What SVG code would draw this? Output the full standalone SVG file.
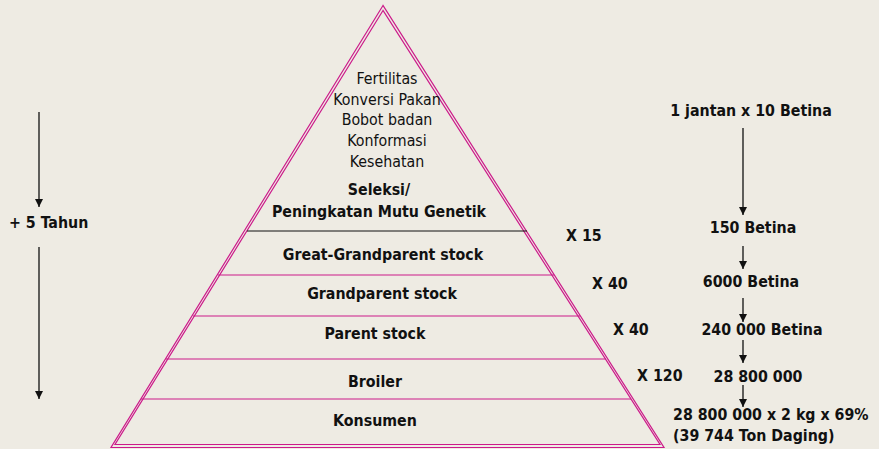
<svg xmlns="http://www.w3.org/2000/svg" width="879" height="449" viewBox="0 0 879 449">
  <defs>
    <marker id="ah" viewBox="0 0 10 10" refX="10" refY="5" markerWidth="8" markerHeight="8" markerUnits="userSpaceOnUse" orient="auto">
      <path d="M0,0 L10,5 L0,10 z" fill="#111"/>
    </marker>
    <style>
      .t { font-family: "DejaVu Sans Condensed", "DejaVu Sans", sans-serif; fill: #111; }
      .r { font-size: 15.8px; font-weight: normal; }
      .b { font-size: 15.8px; font-weight: bold; }
      .c { text-anchor: middle; }
      .pk { stroke: #cc1a8a; fill: none; stroke-width: 1.2; }
      .ar { stroke: #111; stroke-width: 1.3; fill: none; marker-end: url(#ah); }
    </style>
  </defs>
  <rect width="879" height="449" fill="#eeebe3"/>

  <!-- pyramid outline (double line) -->
  <g id="pyramid">
    <polygon class="pk" points="383,5.5 111,447.5 664,447.5"/>
    <polygon class="pk" points="383,10.5 115,444.5 660,444.5"/>
    <line x1="247" y1="231" x2="527" y2="231" stroke="#111" stroke-width="1"/>
    <line class="pk" x1="218" y1="275" x2="554" y2="275"/>
    <line class="pk" x1="193" y1="316" x2="580" y2="316"/>
    <line class="pk" x1="166" y1="359" x2="606" y2="359"/>
    <line class="pk" x1="141" y1="399" x2="631" y2="399"/>
  </g>

  <g id="traits" class="t r c">
    <text x="387" y="84">Fertilitas</text>
    <text x="387" y="105">Konversi Pakan</text>
    <text x="387" y="125">Bobot badan</text>
    <text x="387" y="146">Konformasi</text>
    <text x="387" y="167">Kesehatan</text>
  </g>
  <g id="seleksi" class="t b c">
    <text x="379" y="195">Seleksi/</text>
    <text x="379" y="217">Peningkatan Mutu Genetik</text>
  </g>
  <g id="ggp"><text class="t b c" x="383" y="260">Great-Grandparent stock</text></g>
  <g id="gp"><text class="t b c" x="382" y="299">Grandparent stock</text></g>
  <g id="ps"><text class="t b c" x="375" y="339">Parent stock</text></g>
  <g id="broiler"><text class="t b c" x="375" y="387">Broiler</text></g>
  <g id="konsumen"><text class="t b c" x="375" y="426">Konsumen</text></g>

  <g id="multipliers" class="t b">
    <text x="566" y="241">X 15</text>
    <text x="592" y="289">X 40</text>
    <text x="613" y="335">X 40</text>
    <text x="637" y="381">X 120</text>
  </g>

  <g id="counts" class="t b c">
    <text x="751" y="116">1 jantan x 10 Betina</text>
    <text x="753" y="233">150 Betina</text>
    <text x="751" y="287">6000 Betina</text>
    <text x="762" y="335">240 000 Betina</text>
    <text x="758" y="382">28 800 000</text>
  </g>
  <g id="result" class="t b">
    <text x="673" y="420">28 800 000 x 2 kg x 69%</text>
    <text x="673" y="441">(39 744 Ton Daging)</text>
  </g>

  <g id="time"><text class="t b" x="9" y="228">+ 5 Tahun</text></g>

  <g id="connectors">
    <line class="ar" x1="39" y1="112" x2="39" y2="207"/>
    <line class="ar" x1="39" y1="247" x2="39" y2="399"/>
    <line class="ar" x1="743" y1="128" x2="743" y2="215"/>
    <line class="ar" x1="743" y1="246" x2="743" y2="269"/>
    <line class="ar" x1="743" y1="298" x2="743" y2="322"/>
    <line class="ar" x1="743" y1="340" x2="743" y2="363"/>
    <line class="ar" x1="743" y1="385" x2="743" y2="407"/>
  </g>
</svg>
